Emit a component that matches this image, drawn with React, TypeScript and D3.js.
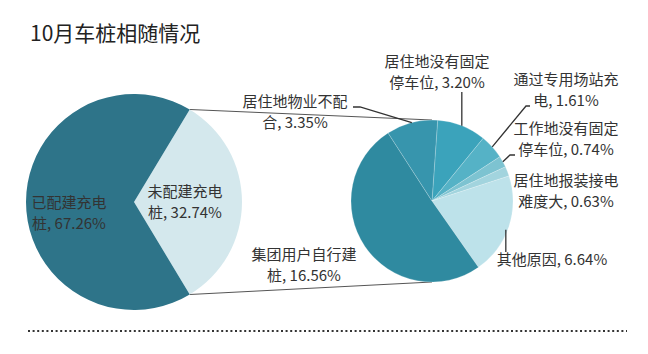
import React from "react";
import * as d3 from "d3";

// 左侧饼图：是否配建充电桩
const mainNames = ["未配建充电桩", "已配建充电桩"];
const mainValues = [32.74, 67.26];
const mainColors = ["#d4e8ed", "#2e7489"];

// 右侧饼图：未配建原因（顺时针，从顶部附近开始）
const subNames = [
  "居住地没有固定停车位",
  "通过专用场站充电",
  "工作地没有固定停车位",
  "居住地报装接电难度大",
  "其他原因",
  "集团用户自行建桩",
  "居住地物业不配合",
];
const subValues = [3.2, 1.61, 0.74, 0.63, 6.64, 16.56, 3.35];
const subColors = ["#3ba3bb", "#55b2c6", "#7dc3d1", "#a2d4de", "#bde2ea", "#2f8aa0", "#3795ad"];

// 标签文字
const mainLabels = [
  ["未配建充电", "桩, 32.74%"],
  ["已配建充电", "桩, 67.26%"],
];
const subLabels = [
  ["居住地没有固定", "停车位, 3.20%"],
  ["通过专用场站充", "电, 1.61%"],
  ["工作地没有固定", "停车位, 0.74%"],
  ["居住地报装接电", "难度大, 0.63%"],
  ["其他原因, 6.64%"],
  ["集团用户自行建", "桩, 16.56%"],
  ["居住地物业不配", "合, 3.35%"],
];

const W = 648;
const H = 354;
const FONT = "'Noto Sans CJK SC', 'Noto Sans', sans-serif";

const deg = Math.PI / 180;
const left = { cx: 134, cy: 202, r: 108 };
const right = { cx: 432, cy: 201, r: 81 };

// label centre positions for each slice
const mainLabelPos = [
  { x: 185, y: 192 },
  { x: 69, y: 203 },
];
const subLabelPos = [
  { x: 437, y: 62 },
  { x: 566, y: 80 },
  { x: 566, y: 129 },
  { x: 566, y: 181 },
  { x: 552, y: 260 },
  { x: 304, y: 255 },
  { x: 295, y: 102 },
];

function edge(c: { cx: number; cy: number; r: number }, a: number, rr = c.r) {
  return [c.cx + rr * Math.sin(a), c.cy - rr * Math.cos(a)];
}

export default function App() {
  // light slice centred on the right-hand side
  const lightShare = mainValues[0] / d3.sum(mainValues);
  const mainStart = Math.PI / 2 - lightShare * Math.PI;
  const mainPie = d3
    .pie<number>()
    .sort(null)
    .startAngle(mainStart)
    .endAngle(mainStart + 2 * Math.PI)(mainValues);

  const subStart = 4 * deg;
  const subPie = d3
    .pie<number>()
    .sort(null)
    .startAngle(subStart)
    .endAngle(subStart + 2 * Math.PI)(subValues);

  const mainArc = d3.arc<d3.PieArcDatum<number>>().innerRadius(0).outerRadius(left.r);
  const subArc = d3.arc<d3.PieArcDatum<number>>().innerRadius(0).outerRadius(right.r);

  // connector lines between the two pies
  const light = mainPie[0];
  const p1 = edge(left, light.startAngle);
  const p2 = edge(left, light.endAngle);
  const q1 = edge(right, 0);
  const q2 = edge(right, Math.PI);

  const mid = (d: d3.PieArcDatum<number>) => (d.startAngle + d.endAngle) / 2;

  // leader lines (label side -> slice edge)
  const e = subPie.map((d) => edge(right, mid(d)));
  const leaders: string[] = [
    `M${e[0][0]},92 L${e[0][0]},${e[0][1]}`,
    `M530,106 L526,106 L${e[1][0]},${e[1][1]}`,
    `M515,155 L510,155 L${e[2][0]},${e[2][1]}`,
    "",
    `M${e[4][0] - 3},${e[4][1] + 3} L${e[4][0] - 3},252`,
    "",
    `M353,107 L360,107 L${e[6][0]},${e[6][1]}`,
  ];

  const renderLabel = (lines: string[], pos: { x: number; y: number }, key: string) => (
    <text key={key} x={pos.x} textAnchor="middle" fontFamily={FONT} fontSize={15} fill="#333">
      {lines.map((t, i) => (
        <tspan key={i} x={pos.x} y={pos.y + 5 + i * 20.5}>
          {t}
        </tspan>
      ))}
    </text>
  );

  return (
    <svg
      width={W}
      height={H}
      style={{ position: "absolute", left: 0, top: 0, background: "#fff" }}
    >
      <text x={30} y={41} fontFamily={FONT} fontSize={21} fill="#222">
        10月车桩相随情况
      </text>

      {/* connectors */}
      <line x1={p1[0]} y1={p1[1]} x2={q1[0]} y2={q1[1]} stroke="#555" strokeWidth={1} />
      <line x1={p2[0]} y1={p2[1]} x2={q2[0]} y2={q2[1]} stroke="#555" strokeWidth={1} />

      <g transform={`translate(${left.cx},${left.cy})`}>
        {mainPie.map((d, i) => (
          <path key={mainNames[i]} d={mainArc(d) || ""} fill={mainColors[i]} />
        ))}
      </g>

      <g transform={`translate(${right.cx},${right.cy})`}>
        {subPie.map((d, i) => (
          <path
            key={subNames[i]}
            d={subArc(d) || ""}
            fill={subColors[i]}
            stroke="#ffffff"
            strokeOpacity={0.25}
            strokeWidth={0.8}
          />
        ))}
      </g>

      {leaders.map((p, i) =>
        p ? <path key={i} d={p} fill="none" stroke="#333" strokeWidth={1.3} /> : null
      )}

      {mainLabels.map((l, i) => renderLabel(l, mainLabelPos[i], "m" + i))}
      {subLabels.map((l, i) => renderLabel(l, subLabelPos[i], "s" + i))}

      <line
        x1={28}
        x2={627}
        y1={331}
        y2={331}
        stroke="#333"
        strokeWidth={2}
        strokeDasharray="2 2.6"
      />
    </svg>
  );
}
